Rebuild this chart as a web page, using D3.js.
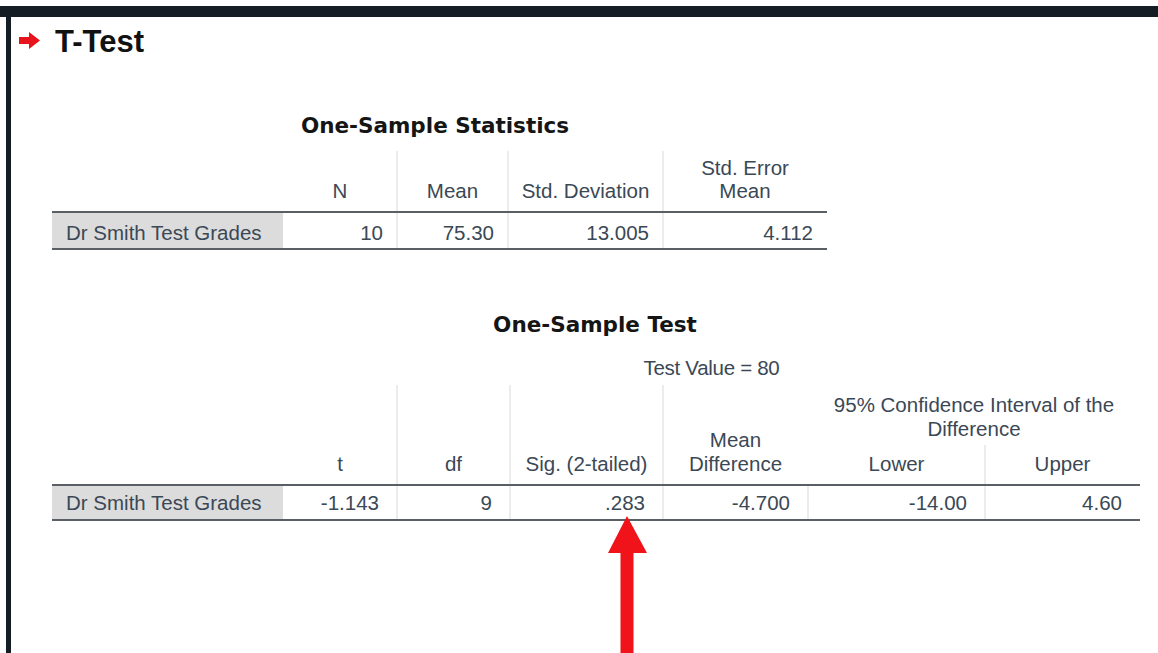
<!DOCTYPE html>
<html>
<head>
<meta charset="utf-8">
<script src="https://cdn.jsdelivr.net/npm/d3@7"></script>
<style>
  body { margin: 0; background: #fff; }
  text { font-family: Arial, "Liberation Sans", sans-serif; }
  .cell { fill: #3b4855; font-size: 20.5px; }
  .ttl { fill: #151515; font-weight: bold; font-size: 21.5px; font-family: "DejaVu Sans", Verdana, sans-serif; }
</style>
</head>
<body>
<div id="out"></div>
<script>
// Table 1 data
var statsRowLabel = "Dr Smith Test Grades";
var statsColumns = ["N", "Mean", "Std. Deviation", "Std. Error\nMean"];
var statsValues = ["10", "75.30", "13.005", "4.112"];

// Table 2 data
var testValueLabel = "Test Value = 80";
var testColumns = ["t", "df", "Sig. (2-tailed)", "Mean\nDifference", "Lower", "Upper"];
var testValues = ["-1.143", "9", ".283", "-4.700", "-14.00", "4.60"];
var ciLabel = "95% Confidence Interval of the\nDifference";

var width = 1158;
var height = 653;

var svg = d3.select("#out").append("svg")
  .attr("width", width)
  .attr("height", height);

// Frame: dark top bar and left border
svg.append("rect").attr("x", 0).attr("y", 6).attr("width", width).attr("height", 11).attr("fill", "#141c24");
svg.append("rect").attr("x", 6).attr("y", 6).attr("width", 5).attr("height", height).attr("fill", "#141c24");

// Heading with small red arrow
svg.append("path")
  .attr("d", "M19,37 L29,37 L29,32 L40,40.5 L29,49 L29,44 L19,44 Z")
  .attr("fill", "#e8141b");
svg.append("text")
  .attr("x", 55).attr("y", 52)
  .attr("font-size", 31).attr("font-weight", "bold").attr("fill", "#111")
  .text("T-Test");

// Draw multi-line text centred at x, last line at baseline y
function multiText(g, str, x, y, lineH, cls) {
  var lines = str.split("\n");
  lines.forEach(function(l, i) {
    g.append("text")
      .attr("class", cls)
      .attr("x", x)
      .attr("y", y - (lines.length - 1 - i) * lineH)
      .attr("text-anchor", "middle")
      .text(l);
  });
}

var labelLeft = 52;
var labelRight = 283;
var lineColor = "#5a5f66";
var gridColor = "#d7d9dc";

// ---------- Table 1 ----------
var t1Edges = [283, 397, 508, 663, 827];
// widths are uneven, so map each column to its own edges
function colLeft1(c) { return t1Edges[statsColumns.indexOf(c)]; }
function colRight1(c) { return t1Edges[statsColumns.indexOf(c) + 1]; }

var t1 = svg.append("g");
t1.append("text").attr("class", "ttl")
  .attr("x", 435).attr("y", 133).attr("text-anchor", "middle")
  .text("One-Sample Statistics");

var t1Top = 151, t1HeadBot = 212, t1RowBot = 249;

t1.selectAll(".vline").data(statsColumns.slice(1)).enter()
  .append("line")
  .attr("x1", colLeft1).attr("x2", colLeft1)
  .attr("y1", t1Top).attr("y2", t1RowBot)
  .attr("stroke", gridColor).attr("stroke-width", 1);

t1.append("rect")
  .attr("x", labelLeft).attr("y", t1HeadBot)
  .attr("width", labelRight - labelLeft).attr("height", t1RowBot - t1HeadBot)
  .attr("fill", "#dcdcdc");

statsColumns.forEach(function(c) {
  multiText(t1, c, (colLeft1(c) + colRight1(c)) / 2, 198, 23, "cell");
});

t1.append("text").attr("class", "cell")
  .attr("x", 66).attr("y", 240).text(statsRowLabel);

t1.selectAll(".val").data(statsValues).enter()
  .append("text").attr("class", "cell")
  .attr("x", function(d, i) { return colRight1(statsColumns[i]) - 14; })
  .attr("y", 240)
  .attr("text-anchor", "end")
  .text(function(d) { return d; });

[t1HeadBot, t1RowBot].forEach(function(y) {
  t1.append("line")
    .attr("x1", labelLeft).attr("x2", t1Edges[4])
    .attr("y1", y).attr("y2", y)
    .attr("stroke", lineColor).attr("stroke-width", 2);
});

// ---------- Table 2 ----------
var t2Edges = [283, 397, 510, 663, 808, 985, 1140];
function colLeft2(c) { return t2Edges[testColumns.indexOf(c)]; }
function colRight2(c) { return t2Edges[testColumns.indexOf(c) + 1]; }

var t2 = svg.append("g");
t2.append("text").attr("class", "ttl")
  .attr("x", 595).attr("y", 332).attr("text-anchor", "middle")
  .text("One-Sample Test");

t2.append("text").attr("class", "cell")
  .attr("x", (t2Edges[0] + t2Edges[6]) / 2).attr("y", 375)
  .attr("text-anchor", "middle")
  .attr("letter-spacing", -0.3)
  .text(testValueLabel);

var t2Top = 385, t2HeadBot = 485, t2RowBot = 520;

// vertical separators: full height for first columns, sub-header for Lower/Upper
t2.selectAll(".vline").data(testColumns.slice(1, 4)).enter()
  .append("line")
  .attr("x1", colLeft2).attr("x2", colLeft2)
  .attr("y1", t2Top).attr("y2", t2RowBot)
  .attr("stroke", gridColor);
t2.append("line")
  .attr("x1", colLeft2("Upper")).attr("x2", colLeft2("Upper"))
  .attr("y1", 445).attr("y2", t2RowBot)
  .attr("stroke", gridColor);
t2.append("line")
  .attr("x1", colLeft2("Lower")).attr("x2", colLeft2("Lower"))
  .attr("y1", t2HeadBot).attr("y2", t2RowBot)
  .attr("stroke", gridColor);

t2.append("rect")
  .attr("x", labelLeft).attr("y", t2HeadBot)
  .attr("width", labelRight - labelLeft).attr("height", t2RowBot - t2HeadBot)
  .attr("fill", "#dcdcdc");

testColumns.forEach(function(c) {
  multiText(t2, c, (colLeft2(c) + colRight2(c)) / 2, 471, 24, "cell");
});
multiText(t2, ciLabel, (colLeft2("Lower") + colRight2("Upper")) / 2, 436, 24, "cell");

t2.append("text").attr("class", "cell")
  .attr("x", 66).attr("y", 510).text(statsRowLabel);

t2.selectAll(".val").data(testValues).enter()
  .append("text").attr("class", "cell")
  .attr("x", function(d, i) { return colRight2(testColumns[i]) - 18; })
  .attr("y", 510)
  .attr("text-anchor", "end")
  .text(function(d) { return d; });

[t2HeadBot, t2RowBot].forEach(function(y) {
  t2.append("line")
    .attr("x1", labelLeft).attr("x2", t2Edges[6])
    .attr("y1", y).attr("y2", y)
    .attr("stroke", lineColor).attr("stroke-width", 2);
});

// Big red arrow pointing at the significance value
svg.append("path")
  .attr("d", "M627,516 L647,553 L633.5,553 L633.5,653 L620.5,653 L620.5,553 L608,553 Z")
  .attr("fill", "#f0141a");
</script>
</body>
</html>
